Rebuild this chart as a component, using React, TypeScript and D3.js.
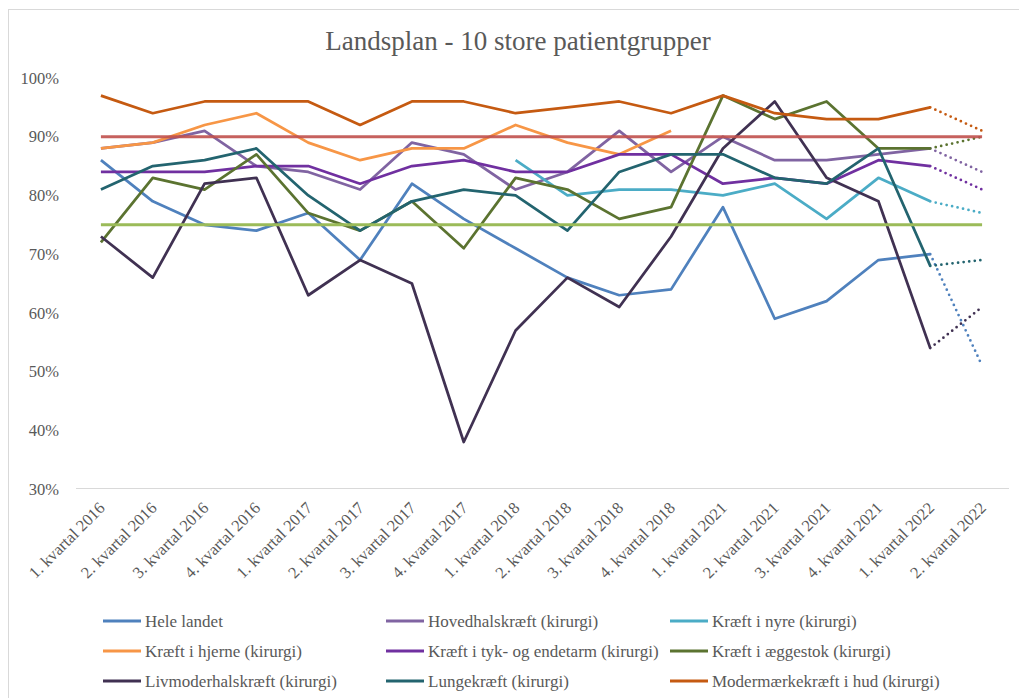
import React from 'react';
import * as d3 from 'd3';

// quarters on the x axis
const quarters = [
  '1. kvartal 2016', '2. kvartal 2016', '3. kvartal 2016', '4. kvartal 2016',
  '1. kvartal 2017', '2. kvartal 2017', '3. kvartal 2017', '4. kvartal 2017',
  '1. kvartal 2018', '2. kvartal 2018', '3. kvartal 2018', '4. kvartal 2018',
  '1. kvartal 2021', '2. kvartal 2021', '3. kvartal 2021', '4. kvartal 2021',
  '1. kvartal 2022', '2. kvartal 2022'
];

const yTicks = [30, 40, 50, 60, 70, 80, 90, 100];

// values in percent, last quarter is the dotted (expected) point
const heleLandet = [86, 79, 75, 74, 77, 69, 82, 76, 71, 66, 63, 64, 78, 59, 62, 69, 70, 51];
const hovedhals = [88, 89, 91, 85, 84, 81, 89, 87, 81, 84, 91, 84, 90, 86, 86, 87, 88, 84];
const nyre = [null, null, null, null, null, null, null, null, 86, 80, 81, 81, 80, 82, 76, 83, 79, 77];
const hjerne = [88, 89, 92, 94, 89, 86, 88, 88, 92, 89, 87, 91, null, null, null, null, null, null];
const tykEndetarm = [84, 84, 84, 85, 85, 82, 85, 86, 84, 84, 87, 87, 82, 83, 82, 86, 85, 81];
const aeggestok = [72, 83, 81, 87, 77, 74, 79, 71, 83, 81, 76, 78, 97, 93, 96, 88, 88, 90];
const livmoderhals = [73, 66, 82, 83, 63, 69, 65, 38, 57, 66, 61, 73, 88, 96, 83, 79, 54, 61];
const lunge = [81, 85, 86, 88, 80, 74, 79, 81, 80, 74, 84, 87, 87, 83, 82, 88, 68, 69];
const modermaerke = [97, 94, 96, 96, 96, 92, 96, 96, 94, 95, 96, 94, 97, 94, 93, 93, 95, 91];

// target lines (not in legend)
const targetHigh = 90;
const targetLow = 75;

const series = [
  { name: 'Hele landet', values: heleLandet, color: '#4f81bd' },
  { name: 'Hovedhalskræft (kirurgi)', values: hovedhals, color: '#8064a2' },
  { name: 'Kræft i nyre (kirurgi)', values: nyre, color: '#4bacc6' },
  { name: 'Kræft i hjerne (kirurgi)', values: hjerne, color: '#f79646' },
  { name: 'Kræft i tyk- og endetarm (kirurgi)', values: tykEndetarm, color: '#7030a0' },
  { name: 'Kræft i æggestok (kirurgi)', values: aeggestok, color: '#5b7330' },
  { name: 'Livmoderhalskræft (kirurgi)', values: livmoderhals, color: '#403152' },
  { name: 'Lungekræft (kirurgi)', values: lunge, color: '#23646f' },
  { name: 'Modermærkekræft i hud (kirurgi)', values: modermaerke, color: '#c55a11' }
];

const W = 1019, H = 698;
const font = '"Liberation Serif", "Times New Roman", serif';
const textColor = '#595959';

export default function App() {
  const x = d3.scaleBand().domain(quarters).range([75, 1008]).padding(0);
  const cx = (q) => x(q) + x.bandwidth() / 2;
  const y = d3.scaleLinear().domain([30, 100]).range([489, 78]);

  const lastIdx = quarters.length - 1;

  const line = d3.line()
    .defined(d => d.v != null)
    .x(d => cx(d.q))
    .y(d => y(d.v));

  const legendCols = [103, 386, 670];
  const legendRows = [621, 651, 681];

  return (
    <svg width={W} height={H} style={{ position: 'absolute', left: 0, top: 0, background: '#fff' }} fontFamily={font}>
      <rect x={8.5} y={9.5} width={W + 10} height={H + 10} fill="#fff" stroke="#d9d9d9" />

      <text x={518} y={50} textAnchor="middle" fontSize={27} fill={textColor}>
        Landsplan - 10 store patientgrupper
      </text>

      {/* y axis labels */}
      {yTicks.map(t => (
        <text key={t} x={59} y={y(t)} dy="0.35em" textAnchor="end" fontSize={16.5} fill={textColor}>
          {t}%
        </text>
      ))}

      {/* x axis */}
      <line x1={76} x2={1009} y1={488.5} y2={488.5} stroke="#d9d9d9" strokeWidth={1.2} />
      {quarters.map(q => (
        <text key={q} transform={`translate(${cx(q) + 5},509) rotate(-45)`} textAnchor="end" fontSize={16.5} fill={textColor}>
          {q}
        </text>
      ))}

      {/* series */}
      {series.map(s => {
        const pts = s.values.map((v, i) => ({ q: quarters[i], v }));
        const solid = line(pts.slice(0, lastIdx));
        const dotted = line(pts.slice(lastIdx - 1));
        return (
          <g key={s.name}>
            <path d={solid} fill="none" stroke={s.color} strokeWidth={2.75} strokeLinejoin="round" />
            {s.values[lastIdx - 1] != null && s.values[lastIdx] != null && (
              <path d={dotted} fill="none" stroke={s.color} strokeWidth={2.75} strokeDasharray="0 5.6" strokeLinecap="round" />
            )}
          </g>
        );
      })}

      {/* target lines */}
      <line x1={cx(quarters[0])} x2={cx(quarters[lastIdx])} y1={y(targetHigh)} y2={y(targetHigh)} stroke="#c0504d" strokeOpacity={0.9} strokeWidth={3} />
      <line x1={cx(quarters[0])} x2={cx(quarters[lastIdx])} y1={y(targetLow)} y2={y(targetLow)} stroke="#9bbb59" strokeWidth={3} />

      {/* legend */}
      {series.map((s, i) => {
        const lx = legendCols[i % 3];
        const ly = legendRows[Math.floor(i / 3)];
        return (
          <g key={'lg' + s.name}>
            <line x1={lx} x2={lx + 38} y1={ly} y2={ly} stroke={s.color} strokeWidth={3} />
            <text x={lx + 42} y={ly} dy="0.35em" fontSize={17} fill={textColor}>{s.name}</text>
          </g>
        );
      })}
    </svg>
  );
}
